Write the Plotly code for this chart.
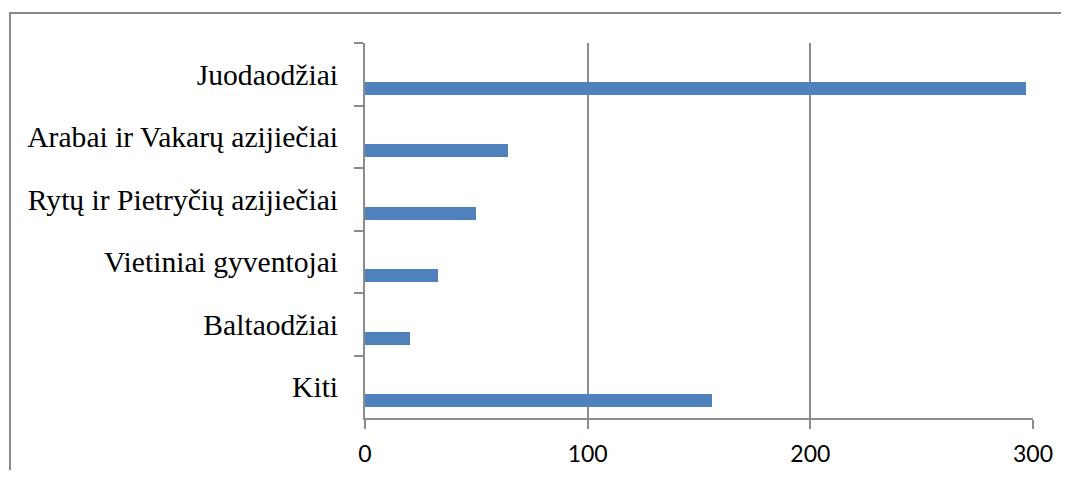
import plotly.graph_objects as go

categories = ["Juodaodžiai", "Arabai ir Vakarų azijiečiai", "Rytų ir Pietryčių azijiečiai",
              "Vietiniai gyventojai", "Baltaodžiai", "Kiti"]
values = [297, 64, 50, 33, 20, 156]
x_ticks = [0, 100, 200, 300]

fig = go.Figure()
fig.add_trace(go.Bar(
    y=categories, x=values, orientation="h",
    marker=dict(color="#4F81BD", line=dict(width=0)),
    width=0.21, offset=0.117,
))

grid = "#8c8c8c"
fig.update_layout(
    width=1053, height=462,
    margin=dict(l=357, r=28, t=35, b=52, autoexpand=False),
    paper_bgcolor="white", plot_bgcolor="white",
    showlegend=False,
    bargap=0,
    xaxis=dict(
        range=[0, 300], tickvals=x_ticks, ticktext=[str(v) for v in x_ticks],
        showgrid=True, gridcolor=grid, gridwidth=2,
        showline=True, linecolor=grid, linewidth=2,
        ticks="outside", ticklen=9, tickwidth=2, tickcolor=grid,
        tickfont=dict(family="Lato", size=23, color="black"),
        ticklabelstandoff=5,
        zeroline=False, fixedrange=True, automargin=False,
    ),
    yaxis=dict(
        type="category", autorange="reversed",
        showgrid=False, zeroline=False,
        showline=True, linecolor=grid, linewidth=2,
        ticks="outside", ticklen=9, tickwidth=2, tickcolor=grid,
        tickson="boundaries", automargin=False,
        tickfont=dict(family="Liberation Serif", size=29.6, color="black"),
        ticklabelstandoff=19,
    ),
    shapes=[dict(type="rect", xref="paper", yref="paper",
                 x0=(10 - 365) / 668, x1=1.2, y0=-0.5, y1=(418 - 13) / 375,
                 line=dict(color="#8a8a8a", width=2), fillcolor="rgba(0,0,0,0)",
                 layer="below")],
)

fig.write_html("out.html")
